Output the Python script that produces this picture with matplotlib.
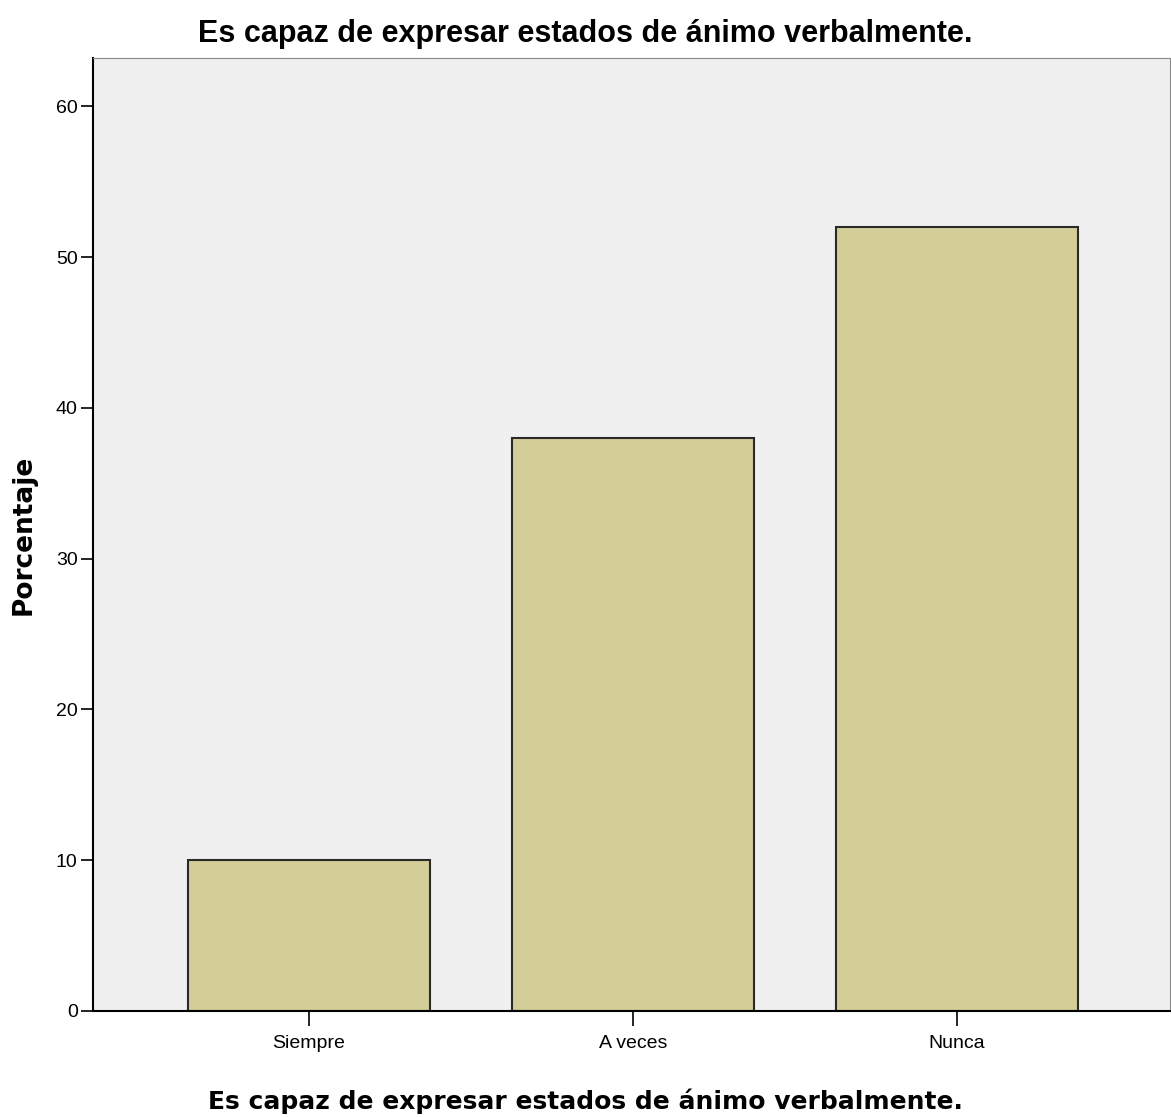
import matplotlib
matplotlib.use('Agg')
import matplotlib.pyplot as plt
import numpy as np

categorias = ['Siempre', 'A veces', 'Nunca']
porcentajes = [10, 38, 52]
yticks = [0, 10, 20, 30, 40, 50, 60]
titulo = 'Es capaz de expresar estados de ánimo verbalmente.'

plt.rcParams['font.family'] = ['Liberation Sans', 'DejaVu Sans']

fig = plt.figure(figsize=(11.71, 11.17), dpi=100)
ax = fig.add_axes([0.0794, 0.0949, 0.9196, 0.8531])
ax.set_facecolor('#F0F0F0')

x = np.arange(len(categorias))
ax.bar(x, porcentajes, width=0.747, color='#D3CE97', edgecolor='#2a2a2a', linewidth=1.5, zorder=2)

ax.set_xlim(-0.667, 2.657)
ax.set_ylim(0, 63.2)
ax.set_xticks(x)
ax.set_xticklabels(categorias, fontsize=14)
ax.set_yticks(yticks)
ax.set_yticklabels([str(v) for v in yticks], fontsize=14)
ax.tick_params(axis='x', direction='out', length=11, width=1.2, color='black', pad=6)
ax.tick_params(axis='y', direction='out', length=9, width=1.2, color='black', pad=2)

ax.spines['left'].set_color('black')
ax.spines['bottom'].set_color('black')
ax.spines['left'].set_linewidth(1.5)
ax.spines['bottom'].set_linewidth(1.5)
ax.spines['top'].set_color('#888888')
ax.spines['right'].set_color('#888888')

# titles centred on the figure, as in the original export
fig.text(0.5, 0.962, titulo, fontsize=22, fontweight='bold', ha='center', va='baseline')
fig.text(0.5, 0.007, titulo, fontsize=18, fontweight='bold', ha='center', va='baseline',
         family=['DejaVu Sans', 'Liberation Sans'])
ax.set_ylabel('Porcentaje', fontsize=19, fontweight='bold', labelpad=14,
              family=['DejaVu Sans', 'Liberation Sans'])

plt.savefig('out.png', dpi=100)
